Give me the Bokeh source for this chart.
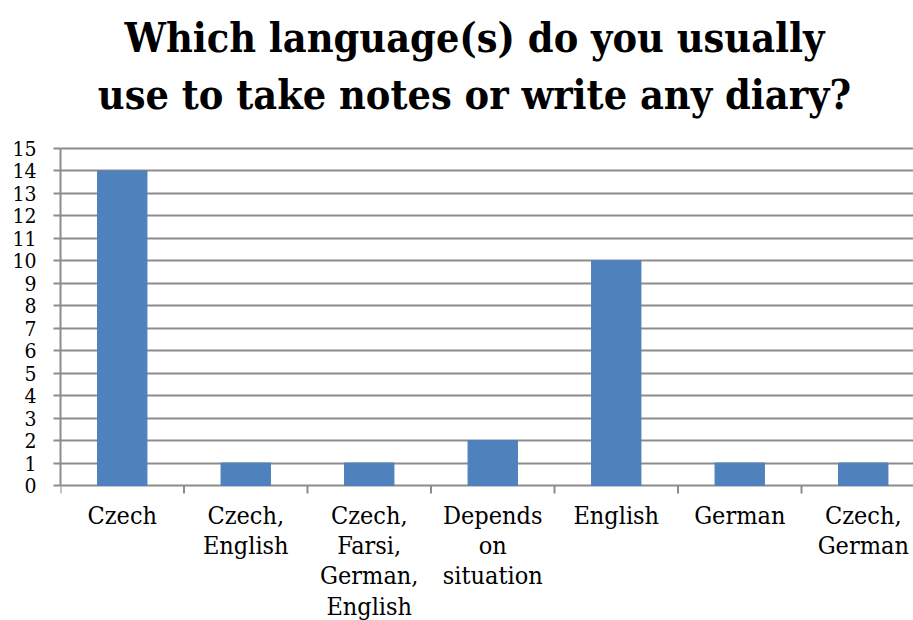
from bokeh.plotting import figure
from bokeh.models import FixedTicker, Range1d
from bokeh.core.properties import value
from bokeh.embed import file_html
from bokeh.resources import INLINE

categories = ["Czech", "Czech,\nEnglish", "Czech,\nFarsi,\nGerman,\nEnglish",
              "Depends\non\nsituation", "English", "German", "Czech,\nGerman"]
counts = [14, 1, 1, 2, 10, 1, 1]
y_ticks = list(range(0, 16))
title_lines = ["Which language(s) do you usually", "use to take notes or write any diary?"]

GREY = "#8c8c8c"
BLUE = "#4F81BD"
SERIF = "DejaVu Serif Condensed, DejaVu Serif"

centers = [i + 0.5 for i in range(len(categories))]
bounds = list(range(len(categories) + 1))

W, H = 913, 620
FRAME_LEFT, ZERO_Y, TOP_Y = 60, 485, 148
PX_PER_UNIT = (ZERO_Y - TOP_Y) / 15.0
CAT_PX = 123.5
X_END = (W - FRAME_LEFT) / CAT_PX
Y_TOP = 15 + TOP_Y / PX_PER_UNIT
Y_BOTTOM = -(H - ZERO_Y) / PX_PER_UNIT
TITLE_X = (474 - FRAME_LEFT) / CAT_PX

p = figure(width=W, height=H, x_range=Range1d(0, X_END), y_range=Range1d(Y_BOTTOM, Y_TOP),
           output_backend="svg", toolbar_location=None,
           min_border_left=FRAME_LEFT, min_border_right=0, min_border_top=0, min_border_bottom=0)
p.outline_line_color = None
p.background_fill_color = "white"
p.border_fill_color = "white"

p.vbar(x=centers, top=counts, width=0.4, color=BLUE)

# y axis
p.yaxis.ticker = FixedTicker(ticks=y_ticks)
p.yaxis.bounds = (0, 15)
p.yaxis.minor_tick_line_color = None
p.yaxis.major_tick_in = 0
p.yaxis.major_tick_out = 7
p.yaxis.major_tick_line_color = GREY
p.yaxis.major_tick_line_width = 2
p.yaxis.axis_line_color = GREY
p.yaxis.axis_line_width = 2
p.yaxis.major_label_text_font = SERIF
p.yaxis.major_label_text_font_size = "21px"
p.yaxis.major_label_text_color = "black"
p.yaxis.major_label_standoff = 17

p.ygrid.ticker = FixedTicker(ticks=y_ticks)
p.ygrid.grid_line_color = GREY
p.ygrid.grid_line_width = 2
p.xgrid.visible = False
p.xaxis.visible = False

# category boundary ticks below the zero line (8 px long)
p.segment(x0=bounds, y0=[0] * len(bounds), x1=bounds, y1=[-8 / PX_PER_UNIT] * len(bounds),
          line_color=GREY, line_width=2)

# category labels
p.text(x=centers, y=[0] * len(centers), text=categories, y_offset=15,
       text_align="center", text_baseline="top", text_font=value(SERIF),
       text_font_size="25px", text_color="black", text_line_height=1.05)

# title (two lines)
p.text(x=[TITLE_X] * 2, y=[15] * 2, text=title_lines, y_offset=[-(TOP_Y - 37), -(TOP_Y - 94)],
       text_align="center", text_baseline="middle", text_font=value(SERIF),
       text_font_size="41px", text_font_style="bold", text_color="black")

open("out.html", "w").write(file_html(p, INLINE))
